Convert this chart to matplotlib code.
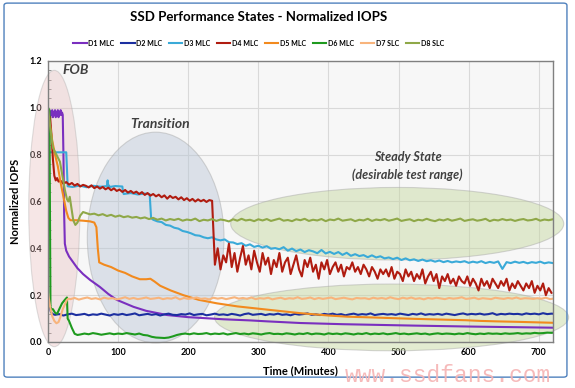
import numpy as np
import matplotlib
matplotlib.use("Agg")
import matplotlib.pyplot as plt
from matplotlib.patches import Ellipse, FancyBboxPatch

plt.rcParams['font.family'] = ['Lato', 'DejaVu Sans']

# ---- data (minutes, normalized IOPS) ----
LABELS = ["D1 MLC", "D2 MLC", "D3 MLC", "D4 MLC", "D5 MLC", "D6 MLC", "D7 SLC", "D8 SLC"]
COLORS = ["#7A2FBF", "#1C2FA0", "#3AAAD8", "#B01C10", "#F28A1E", "#1E9A1E", "#F8B47C", "#8FA848"]

# D1 MLC
d1_t = [0, 1, 2, 3, 4, 5, 6, 7, 8, 9, 10, 11, 12, 13, 14, 15, 16, 17, 18, 19, 20, 21,
        22, 23, 24, 26, 30, 36, 42, 50, 60, 74, 86, 98, 110, 122, 140, 170, 200, 217,
        250, 289, 313, 360, 420, 521, 600, 720]
d1_v = [1.0, 0.97, 0.99, 0.96, 0.98, 0.97, 0.99, 0.96, 0.98, 0.97, 0.99, 0.96, 0.98, 0.97,
        0.99, 0.96, 0.98, 0.97, 0.99, 0.97, 0.98, 0.97,
        0.80, 0.55, 0.42, 0.39, 0.365, 0.34, 0.315, 0.29, 0.265, 0.235, 0.205, 0.18, 0.165,
        0.15, 0.133, 0.115, 0.106, 0.103, 0.097, 0.092, 0.088, 0.081, 0.076, 0.070, 0.066, 0.061]

# D2 MLC
d2_head_t = [0, 2, 4, 6, 8]
d2_head_v = [0.20, 0.16, 0.13, 0.12, 0.118]
d2_tail_v = [
    0.116, 0.119, 0.113, 0.118, 0.121, 0.115, 0.117, 0.120, 0.114, 0.118,
    0.116, 0.121, 0.117, 0.113, 0.119, 0.116, 0.120, 0.115, 0.118, 0.122,
    0.114, 0.117, 0.120, 0.116, 0.119, 0.113, 0.118, 0.121, 0.116, 0.115,
    0.119, 0.117, 0.122, 0.115, 0.118, 0.120, 0.114, 0.117, 0.121, 0.116,
    0.118, 0.115, 0.120, 0.117, 0.113, 0.119, 0.122, 0.116, 0.118, 0.120,
    0.115, 0.119, 0.117, 0.121, 0.116, 0.118, 0.114, 0.120, 0.117, 0.119,
    0.122, 0.116, 0.118, 0.115, 0.120, 0.117, 0.121, 0.116, 0.119, 0.114,
    0.118, 0.121, 0.116, 0.119, 0.117, 0.122, 0.115, 0.118, 0.120, 0.117,
    0.119, 0.116, 0.121, 0.118, 0.115, 0.120, 0.117, 0.122, 0.116, 0.119,
    0.117, 0.120, 0.116, 0.121, 0.118, 0.115, 0.119, 0.122, 0.117, 0.120,
    0.118, 0.121, 0.117, 0.119, 0.123, 0.116, 0.120, 0.118, 0.121, 0.119,
    0.120, 0.117, 0.122, 0.119, 0.121, 0.118, 0.123, 0.119, 0.121, 0.120]

# D3 MLC
d3_head_t = [0, 26, 27, 28, 35, 45, 55, 65, 75, 84, 85, 86, 87, 88, 96, 106, 107, 108,
             118, 128, 138, 145, 146, 147]
d3_head_v = [0.81, 0.81, 0.74, 0.665, 0.662, 0.668, 0.661, 0.667, 0.663, 0.666, 0.69, 0.664,
             0.668, 0.662, 0.666, 0.664, 0.64, 0.632, 0.636, 0.630, 0.634, 0.631, 0.58, 0.53]
d3_tail_v = [
    0.522, 0.515, 0.512, 0.500, 0.497, 0.488, 0.484, 0.474, 0.470, 0.464,
    0.456, 0.454, 0.447, 0.443, 0.447, 0.438, 0.434, 0.438, 0.426, 0.425,
    0.418, 0.422, 0.411, 0.417, 0.406, 0.411, 0.403, 0.409, 0.398, 0.401,
    0.396, 0.405, 0.390, 0.399, 0.388, 0.395, 0.384, 0.392, 0.387, 0.379,
    0.393, 0.378, 0.385, 0.376, 0.384, 0.372, 0.381, 0.368, 0.375, 0.367,
    0.371, 0.362, 0.370, 0.361, 0.366, 0.357, 0.361, 0.354, 0.360, 0.350,
    0.357, 0.349, 0.353, 0.346, 0.352, 0.345, 0.349, 0.343, 0.348, 0.341,
    0.346, 0.340, 0.344, 0.341, 0.345, 0.338, 0.343, 0.339, 0.345, 0.337,
    0.342, 0.338, 0.344, 0.312, 0.341, 0.337, 0.343, 0.338, 0.342, 0.336,
    0.341, 0.338, 0.343, 0.336, 0.340, 0.337]

# D4 MLC
d4_head_t = [0, 3, 5, 7, 9, 11, 13, 15]
d4_head_v = [0.97, 0.96, 0.88, 0.78, 0.71, 0.69, 0.70, 0.685]
d4_mid_v = [
    0.688, 0.676, 0.683, 0.672, 0.679, 0.668, 0.675, 0.664, 0.671, 0.667,
    0.660, 0.669, 0.657, 0.664, 0.655, 0.662, 0.652, 0.659, 0.648, 0.656,
    0.645, 0.651, 0.641, 0.649, 0.638, 0.645, 0.636, 0.642, 0.632, 0.640,
    0.628, 0.636, 0.625, 0.632, 0.622, 0.629, 0.618, 0.626, 0.612, 0.624,
    0.615, 0.620, 0.609, 0.618, 0.606, 0.614, 0.603, 0.611, 0.600, 0.609,
    0.601, 0.607, 0.598, 0.606, 0.603]
d4_tail_v = [
    0.33, 0.40, 0.31, 0.37, 0.34, 0.42, 0.32, 0.38, 0.30, 0.36,
    0.41, 0.33, 0.37, 0.31, 0.39, 0.34, 0.30, 0.38, 0.33, 0.36,
    0.29, 0.35, 0.32, 0.38, 0.30, 0.34, 0.36, 0.29, 0.33, 0.37,
    0.31, 0.28, 0.35, 0.32, 0.36, 0.30, 0.33, 0.27, 0.34, 0.31,
    0.35, 0.29, 0.32, 0.34, 0.30, 0.33, 0.28, 0.32, 0.31, 0.34,
    0.30, 0.32, 0.29, 0.33, 0.31, 0.28, 0.32, 0.30, 0.27, 0.31,
    0.29, 0.31, 0.28, 0.32, 0.27, 0.30, 0.29, 0.26, 0.31, 0.28,
    0.30, 0.26, 0.29, 0.27, 0.31, 0.25, 0.28, 0.30, 0.26, 0.29,
    0.23, 0.28, 0.26, 0.29, 0.25, 0.27, 0.24, 0.28, 0.26, 0.25,
    0.28, 0.24, 0.27, 0.25, 0.22, 0.27, 0.24, 0.26, 0.23, 0.27,
    0.25, 0.23, 0.26, 0.24, 0.27, 0.22, 0.25, 0.23, 0.26, 0.24,
    0.22, 0.25, 0.23, 0.26, 0.21, 0.24, 0.22, 0.25, 0.20, 0.23,
    0.21]

# D5 MLC
d5_t = [0, 3, 6, 10, 14, 18, 22, 26, 29, 32, 40, 50, 60, 66, 69, 71, 73, 80, 90, 100,
        110, 120, 131, 140, 146, 152, 160, 175, 193, 215, 241, 270, 313, 360, 380, 400,
        427, 450, 480, 500, 521, 545, 570, 595, 617, 640, 670, 695, 720]
d5_v = [0.97, 0.92, 0.86, 0.80, 0.75, 0.68, 0.62, 0.56, 0.53, 0.52, 0.52, 0.518, 0.515,
        0.51, 0.49, 0.40, 0.34, 0.33, 0.32, 0.305, 0.295, 0.28, 0.268, 0.268, 0.27, 0.258,
        0.24, 0.22, 0.20, 0.18, 0.165, 0.152, 0.138, 0.123, 0.118, 0.113, 0.108, 0.106,
        0.103, 0.101, 0.099, 0.097, 0.095, 0.093, 0.090, 0.088, 0.086, 0.084, 0.082]

# D6 MLC
d6_head_t = [0, 2, 3.5, 5, 7, 10, 13, 16, 20, 24, 27, 28, 30, 34, 38, 42]
d6_head_v = [1.0, 0.99, 0.15, 0.14, 0.14, 0.125, 0.12, 0.14, 0.165, 0.18, 0.19, 0.10,
             0.09, 0.06, 0.035, 0.03]
d6_tail_v = [
    0.032, 0.036, 0.033, 0.038, 0.035, 0.031, 0.034, 0.037, 0.033, 0.036,
    0.034, 0.038, 0.035, 0.032, 0.036, 0.030, 0.028, 0.022, 0.019, 0.018,
    0.017, 0.019, 0.024, 0.030, 0.034, 0.036, 0.033, 0.037, 0.034, 0.035,
    0.038, 0.033, 0.036, 0.034, 0.037, 0.032, 0.035, 0.038, 0.034, 0.036,
    0.033, 0.037, 0.035, 0.032, 0.036, 0.038, 0.034, 0.035, 0.033, 0.037,
    0.035, 0.032, 0.036, 0.034, 0.038, 0.033, 0.036, 0.035, 0.032, 0.037,
    0.034, 0.036, 0.033, 0.037, 0.035, 0.032, 0.036, 0.034, 0.038, 0.033,
    0.036, 0.034, 0.037, 0.033, 0.035, 0.038, 0.034, 0.036, 0.033, 0.035,
    0.037, 0.034, 0.036, 0.032, 0.035, 0.037, 0.034, 0.036, 0.035, 0.033,
    0.036, 0.034, 0.038, 0.035, 0.033, 0.036, 0.034, 0.037, 0.035, 0.036,
    0.034, 0.037, 0.035, 0.036, 0.038, 0.035, 0.037, 0.036, 0.039, 0.037,
    0.038, 0.040, 0.039, 0.041, 0.040]

# D7 SLC
d7_head_t = [0, 3, 6, 9, 12, 15, 18, 21, 24, 27, 29]
d7_head_v = [0.21, 0.15, 0.11, 0.09, 0.08, 0.085, 0.11, 0.14, 0.16, 0.18, 0.185]
d7_tail_v = [
    0.183, 0.188, 0.181, 0.186, 0.190, 0.184, 0.187, 0.182, 0.189, 0.185,
    0.187, 0.182, 0.186, 0.191, 0.184, 0.188, 0.183, 0.186, 0.190, 0.184,
    0.186, 0.189, 0.183, 0.187, 0.185, 0.191, 0.182, 0.188, 0.184, 0.187,
    0.190, 0.184, 0.186, 0.182, 0.189, 0.185, 0.188, 0.183, 0.187, 0.191,
    0.185, 0.188, 0.184, 0.190, 0.183, 0.187, 0.185, 0.189, 0.182, 0.186,
    0.189, 0.183, 0.187, 0.185, 0.191, 0.184, 0.186, 0.190, 0.183, 0.188,
    0.184, 0.187, 0.190, 0.183, 0.186, 0.189, 0.185, 0.182, 0.188, 0.186,
    0.187, 0.183, 0.189, 0.185, 0.188, 0.184, 0.191, 0.186, 0.183, 0.189,
    0.185, 0.190, 0.184, 0.187, 0.182, 0.188, 0.185, 0.189, 0.186, 0.183,
    0.188, 0.185, 0.187, 0.191, 0.184, 0.186, 0.189, 0.183, 0.187, 0.185,
    0.183, 0.189, 0.186, 0.184, 0.188, 0.185, 0.190, 0.184, 0.187, 0.186,
    0.184, 0.187, 0.185, 0.189, 0.183, 0.186, 0.188, 0.184, 0.186, 0.185]

# D8 SLC
d8_head_t = [0, 3, 7, 12, 17, 21, 24, 27, 29, 31, 33, 36, 39, 42, 46, 50, 55, 60]
d8_head_v = [1.0, 0.92, 0.83, 0.80, 0.77, 0.70, 0.65, 0.61, 0.60, 0.62, 0.58, 0.52,
             0.50, 0.51, 0.54, 0.555, 0.55, 0.545]
d8_tail_v = [
    0.548, 0.541, 0.546, 0.538, 0.543, 0.535, 0.540, 0.533, 0.537, 0.531,
    0.534, 0.528, 0.532, 0.525, 0.530, 0.522, 0.527, 0.519, 0.525, 0.521,
    0.526, 0.518, 0.523, 0.520, 0.527, 0.516, 0.522, 0.519, 0.525, 0.517,
    0.523, 0.520, 0.515, 0.524, 0.518, 0.526, 0.519, 0.522, 0.516, 0.524,
    0.519, 0.525, 0.517, 0.522, 0.527, 0.518, 0.521, 0.516, 0.524, 0.520,
    0.526, 0.517, 0.522, 0.519, 0.525, 0.516, 0.523, 0.520, 0.527, 0.518,
    0.521, 0.524, 0.516, 0.522, 0.519, 0.526, 0.517, 0.523, 0.520, 0.525,
    0.518, 0.522, 0.527, 0.517, 0.521, 0.524, 0.516, 0.522, 0.519, 0.526,
    0.520, 0.516, 0.523, 0.519, 0.525, 0.518, 0.522, 0.527, 0.517, 0.521,
    0.524, 0.518, 0.521, 0.526, 0.516, 0.522, 0.519, 0.525, 0.520, 0.523,
    0.517, 0.522, 0.525, 0.519, 0.521, 0.526, 0.518, 0.523, 0.520, 0.524,
    0.526, 0.521]


def join(head_t, head_v, start, step, tail_v):
    # tail values are sampled every `step` minutes starting at `start`
    tail_t = start + step * np.arange(len(tail_v))
    return np.concatenate([head_t, tail_t]), np.concatenate([head_v, tail_v])


series = [
    (np.array(d1_t), np.array(d1_v)),
    join(d2_head_t, d2_head_v, 10, 6, d2_tail_v),
    join(d3_head_t, d3_head_v, 150, 6, d3_tail_v),
    join(*join(d4_head_t, d4_head_v, 18, 4, d4_mid_v), 238, 4, d4_tail_v),
    (np.array(d5_t), np.array(d5_v)),
    join(d6_head_t, d6_head_v, 46, 6, d6_tail_v),
    join(d7_head_t, d7_head_v, 32, 6, d7_tail_v),
    join(d8_head_t, d8_head_v, 66, 6, d8_tail_v),
]

fig = plt.figure(figsize=(5.75, 3.88), dpi=100)
ax = fig.add_axes([0.0835, 0.1186, 0.878, 0.7242])
ax.set_facecolor("#F7F7F7")

# region shapes
shape_edge = "#A6A6A6"
ax.add_patch(Ellipse((9, 0.57), 73, 1.18, facecolor="#E6B9B8", alpha=0.35,
                     edgecolor=shape_edge, lw=0.8, clip_on=False, zorder=1))
ax.add_patch(Ellipse((153.5, 0.446), 195, 0.90, facecolor="#B9C6D6", alpha=0.45,
                     edgecolor=shape_edge, lw=0.8, clip_on=False, zorder=1))
ax.add_patch(Ellipse((498, 0.505), 475, 0.31, facecolor="#C3D69B", alpha=0.45,
                     edgecolor=shape_edge, lw=0.8, clip_on=False, zorder=1))
ax.add_patch(Ellipse((490, 0.105), 505, 0.285, facecolor="#C3D69B", alpha=0.45,
                     edgecolor=shape_edge, lw=0.8, clip_on=False, zorder=1))

for (t, v), lab, col in zip(series, LABELS, COLORS):
    ax.plot(t, v, color=col, lw=1.5, label=lab, zorder=3)

ax.set_xlim(0, 720)
ax.set_ylim(0, 1.2)
ax.set_xticks(np.arange(0, 701, 100))
ax.set_yticks(np.arange(0, 1.21, 0.2))
ax.set_yticklabels([f"{y:.1f}" for y in np.arange(0, 1.21, 0.2)])
ax.set_yticks(np.arange(0, 1.21, 0.04), minor=True)
ax.tick_params(axis="both", labelsize=6.5, length=0, pad=4)
ax.tick_params(axis="y", which="minor", length=2, direction="in", color="#7F7F7F")
for lbl in ax.get_xticklabels() + ax.get_yticklabels():
    lbl.set_fontweight("bold")
ax.grid(True, color="#D9D9D9", lw=0.8, zorder=0.5)
ax.set_axisbelow(True)
for sp in ax.spines.values():
    sp.set_color("#808080")
    sp.set_linewidth(1.0)
    sp.set_zorder(4)

ax.set_xlabel("Time (Minutes)", fontsize=8, fontweight="bold", labelpad=6)
ax.set_ylabel("Normalized IOPS", fontsize=8, fontweight="bold", labelpad=6)

# region labels
txt = dict(color="#404040", fontweight="bold", style="italic", zorder=5)
ax.text(40, 1.16, "FOB", fontsize=10, ha="center", va="center", **txt)
ax.text(160, 0.93, "Transition", fontsize=10, ha="center", va="center", **txt)
ax.text(513, 0.79, "Steady State", fontsize=9, ha="center", va="center", **txt)
ax.text(513, 0.715, "(desirable test range)", fontsize=9, ha="center", va="center", **txt)

fig.text(0.45, 0.955, "SSD Performance States - Normalized IOPS", fontsize=9.5,
         fontweight="bold", ha="center", va="center")
fig.legend(loc="center", bbox_to_anchor=(0.45, 0.889), ncol=8, frameon=False,
           prop={"size": 5, "weight": "bold"}, handlelength=1.9, handletextpad=0.25,
           columnspacing=1.0)

# outer chart frame
fig.patches.append(FancyBboxPatch((0.007, 0.028), 0.979, 0.964,
                                  boxstyle="round,pad=0,rounding_size=0.006",
                                  transform=fig.transFigure, fill=False,
                                  edgecolor="#4F81BD", lw=1.0))

fig.text(0.6, 0.003, "www.ssdfans.com", fontsize=16.5, family="Liberation Mono",
         color="#F5B3B3", ha="left", va="bottom", alpha=0.9)

fig.savefig("out.png", dpi=100)
